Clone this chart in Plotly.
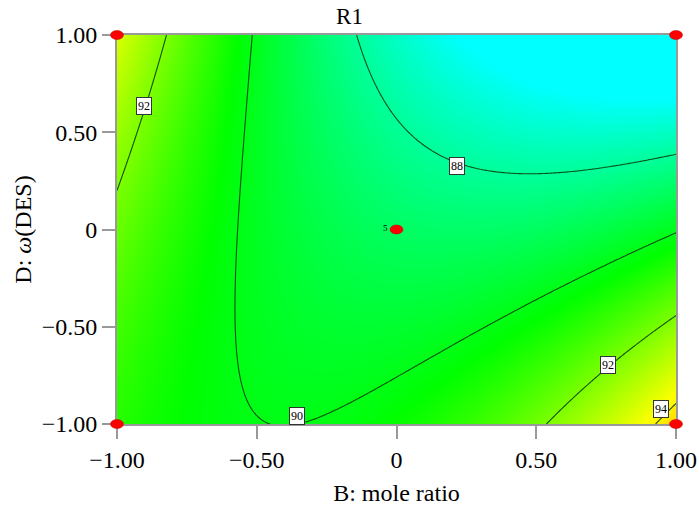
import numpy as np
import plotly.graph_objects as go

c88_B = [-0.120, -0.088, -0.005, 0.120, 0.216, 0.370, 0.728, 1.000]
c88_D = [1.000, 0.666, 0.512, 0.398, 0.326, 0.275, 0.316, 0.368]
c90_B = [-0.517, -0.574, -0.596, -0.603, -0.589, -0.542, -0.453, -0.400, -0.345, -0.166, 0.000, 0.370, 0.728, 1.000]
c90_D = [1.000, 0.357, 0.000, -0.362, -0.671, -0.851, -0.969, -0.985, -0.990, -0.902, -0.800, -0.517, -0.208, 0.008]
c92_B = [-0.818, -0.903, -1.000, 0.524, 0.757, 0.900]
c92_D = [1.000, 0.635, 0.167, -1.000, -0.697, -0.568]
c94_B = [0.918, 0.990]
c94_D = [-1.000, -0.900]
# Values estimated from the shading
sh_B = [0.0, -1.0, -0.40, -0.75, -0.30, -1.0]
sh_D = [0.0, -1.0, -1.00, -1.00, -0.85, -0.50]
sh_R = [89.3, 90.7, 90.05, 90.4, 89.8, 91.3]

# Contour labels (level, position)
lab_text = ["92", "88", "90", "92", "94"]
lab_B = [-0.903, 0.216, -0.356, 0.757, 0.946]
lab_D = [0.635, 0.326, -0.959, -0.697, -0.923]

# Design points
dp_B = [-1, -1, 1, 1, 0]
dp_D = [-1, 1, -1, 1, 0]

tick_vals = [-1, -0.5, 0, 0.5, 1]
tick_text = ["\u22121.00", "\u22120.50", "0", "0.50", "1.00"]

# Cubic response-surface fit through the read points
Bp = np.array(c88_B + c90_B + c92_B + c94_B + sh_B)
Dp = np.array(c88_D + c90_D + c92_D + c94_D + sh_D)
Rp = np.array([88]*len(c88_B) + [90]*len(c90_B) + [92]*len(c92_B) + [94]*len(c94_B) + sh_R, float)
W = np.array([1.5]*len(c88_B) + [2]*len(c90_B) + [2]*len(c92_B) + [1]*len(c94_B) + [2]*len(sh_B), float)

def basis(b, d):
    return [np.ones_like(b), b, d, b*d, b**2, d**2, b**3, d**3, b**2*d, b*d**2]

X = np.column_stack(basis(Bp, Dp))
coef, *_ = np.linalg.lstsq(X * W[:, None], Rp * W, rcond=None)

g = np.linspace(-1, 1, 241)
BB, DD = np.meshgrid(g, g)
Z = sum(c * t for c, t in zip(coef, basis(BB, DD)))

# Colour stops (response values)
z_lo, z_green, z_yellow, z_hi = 86.5, 90.3, 93.8, 97.5
span = z_hi - z_lo

font = "Liberation Serif"
fig = go.Figure()
fig.add_trace(go.Contour(
    x=g, y=g, z=Z,
    colorscale=[[0, "rgb(0,255,255)"], [(z_green - z_lo) / span, "rgb(0,255,0)"],
                [(z_yellow - z_lo) / span, "rgb(255,255,0)"], [1, "rgb(255,0,0)"]],
    zmin=z_lo, zmax=z_hi,
    contours=dict(coloring="heatmap", start=88, end=94, size=2, showlabels=False),
    line=dict(color="rgba(10,60,10,0.9)", width=1.1),
    showscale=False, hoverinfo="skip",
))

for t, b, d in zip(lab_text, lab_B, lab_D):
    fig.add_annotation(x=b, y=d, text=t, showarrow=False,
                       font=dict(family=font, size=12, color="black"),
                       bgcolor="white", bordercolor="#333", borderwidth=1, borderpad=1)

for b, d in zip(dp_B, dp_D):
    fig.add_shape(type="circle", xref="paper", yref="paper", xsizemode="pixel", ysizemode="pixel",
                  xanchor=(b + 1) / 2, yanchor=(d + 1) / 2, x0=-6.5, x1=6.5, y0=-4.5, y1=4.5,
                  fillcolor="red", line=dict(color="#c00000", width=0.5), layer="above")

fig.add_annotation(x=0, y=0, text="5", showarrow=False, xshift=-11, yshift=2,
                   font=dict(family=font, size=9, color="black"))

axis_common = dict(
    range=[-1, 1], tickvals=tick_vals, ticktext=tick_text,
    ticks="outside", ticklen=13, tickcolor="#999", tickwidth=1.5,
    showline=True, linecolor="#999", linewidth=2, mirror=True,
    showgrid=False, zeroline=False, automargin=False,
    tickfont=dict(family=font, size=24, color="black"),
)
fig.update_xaxes(**axis_common, title=dict(text="B: mole ratio", font=dict(family=font, size=24, color="black"), standoff=12))
fig.update_yaxes(**axis_common, title=dict(text="D: <i>\u03c9</i>(DES)", font=dict(family=font, size=24, color="black"), standoff=3))

fig.update_layout(
    width=699, height=508,
    margin=dict(l=117, r=23, t=35, b=84),
    paper_bgcolor="white", plot_bgcolor="white",
    title=dict(text="R1", x=0.5, xanchor="center", y=0.985, yanchor="top",
               font=dict(family=font, size=23, color="black")),
    showlegend=False,
)
fig.write_html("out.html")
